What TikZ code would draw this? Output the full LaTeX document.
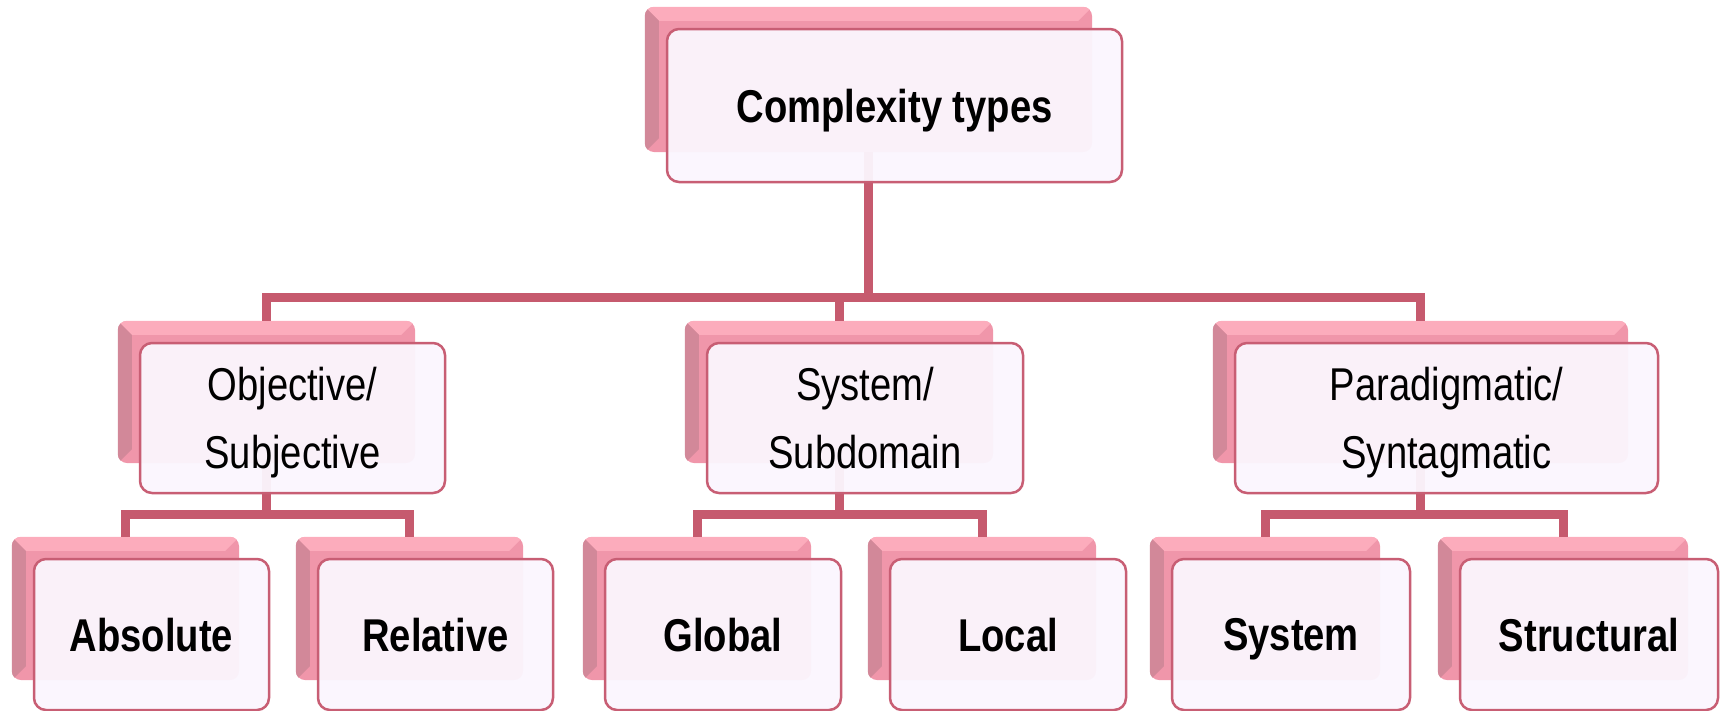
\documentclass[tikz,border=0pt]{standalone}
\usepackage{fontspec}
\setmainfont{Liberation Sans}[FakeStretch=0.83]
\usetikzlibrary{calc}

\definecolor{connred}{RGB}{198,90,110}
\definecolor{frontedge}{RGB}{200,94,116}
\definecolor{frontfill}{RGB}{251,246,254}
\definecolor{backmid}{RGB}{240,150,170}
\definecolor{backtop}{RGB}{252,172,188}
\definecolor{backleft}{RGB}{210,136,153}

\tikzset{
  backbox/.style={fill=backmid, rounded corners=9pt, inner sep=0pt},
  frontbox/.style={draw=frontedge, line width=2.5pt, fill=frontfill,
    fill opacity=0.95, text opacity=1, rounded corners=12pt, inner sep=0pt,
    text depth=0pt, align=center, font=\fontsize{46}{68}\selectfont},
  headtext/.style={font=\fontsize{46}{68}\selectfont\bfseries},
  conn/.style={draw=connred, line width=9pt},
}

% light top bevel and darker left bevel of a back plate
\newcommand\bevelplate[1]{%
  \begin{scope}
    \clip[rounded corners=9pt] (#1.north west) rectangle (#1.south east);
    \fill[backtop] (#1.north west) -- (#1.north east)
      -- ([shift={(-14pt,-14pt)}]#1.north east)
      -- ([shift={(14pt,-14pt)}]#1.north west) -- cycle;
    \fill[backleft] (#1.north west) -- ([shift={(14pt,-14pt)}]#1.north west)
      -- ([shift={(14pt,14pt)}]#1.south west) -- (#1.south west) -- cycle;
  \end{scope}}

\begin{document}
\begin{tikzpicture}[x=1pt,y=-1pt]
\useasboundingbox (0,0) rectangle (1723,710);

% back plates
\node[backbox, minimum width=447pt, minimum height=145pt] (topb) at (868.5,79.5) {};
\node[backbox, minimum width=297pt, minimum height=142pt] (osb) at (266.5,392) {};
\node[backbox, minimum width=308pt, minimum height=142pt] (ssb) at (839,392) {};
\node[backbox, minimum width=415pt, minimum height=142pt] (psb) at (1420.5,392) {};
\node[backbox, minimum width=227pt, minimum height=143pt] (absb) at (125.5,608.5) {};
\node[backbox, minimum width=227pt, minimum height=143pt] (relb) at (409.5,608.5) {};
\node[backbox, minimum width=228pt, minimum height=143pt] (glob) at (697,608.5) {};
\node[backbox, minimum width=228pt, minimum height=143pt] (locb) at (982,608.5) {};
\node[backbox, minimum width=230pt, minimum height=143pt] (sysb) at (1265,608.5) {};
\node[backbox, minimum width=250pt, minimum height=143pt] (strb) at (1563,608.5) {};
\foreach \p in {topb,osb,ssb,psb,absb,relb,glob,locb,sysb,strb} {\bevelplate{\p}}

% connectors
\coordinate (bar1) at (0,297);
\coordinate (bar2) at (0,514);
\foreach \c in {osb,ssb,psb}
  \draw[conn] (topb.south) -- (topb.south |- bar1) -| (\c.north);
\foreach \p/\a/\b in {osb/absb/relb, ssb/glob/locb, psb/sysb/strb} {
  \draw[conn] (\p.south) -- (\p.south |- bar2) -| (\a.north);
  \draw[conn] (\p.south) -- (\p.south |- bar2) -| (\b.north);
}

% front cards
\node[frontbox, headtext, minimum width=455pt, minimum height=153pt] (topf)
  at ([shift={(26pt,-26pt)}]topb.center) {Complexity types};
\node[frontbox, minimum width=305pt, minimum height=150pt] (osf)
  at ([shift={(26pt,-26pt)}]osb.center) {Objective/\\Subjective};
\node[frontbox, minimum width=316pt, minimum height=150pt] (ssf)
  at ([shift={(26pt,-26pt)}]ssb.center) {System/\\Subdomain};
\node[frontbox, minimum width=423pt, minimum height=150pt] (psf)
  at ([shift={(26pt,-26pt)}]psb.center) {Paradigmatic/\\Syntagmatic};
\node[frontbox, headtext, minimum width=235pt, minimum height=151pt] (absf)
  at ([shift={(26pt,-26pt)}]absb.center) {Absolute};
\node[frontbox, headtext, minimum width=235pt, minimum height=151pt] (relf)
  at ([shift={(26pt,-26pt)}]relb.center) {Relative};
\node[frontbox, headtext, minimum width=236pt, minimum height=151pt] (glof)
  at ([shift={(26pt,-26pt)}]glob.center) {Global};
\node[frontbox, headtext, minimum width=236pt, minimum height=151pt] (locf)
  at ([shift={(26pt,-26pt)}]locb.center) {Local};
\node[frontbox, headtext, minimum width=238pt, minimum height=151pt] (sysf)
  at ([shift={(26pt,-26pt)}]sysb.center) {System};
\node[frontbox, headtext, minimum width=258pt, minimum height=151pt] (strf)
  at ([shift={(26pt,-26pt)}]strb.center) {Structural};
\end{tikzpicture}
\end{document}
